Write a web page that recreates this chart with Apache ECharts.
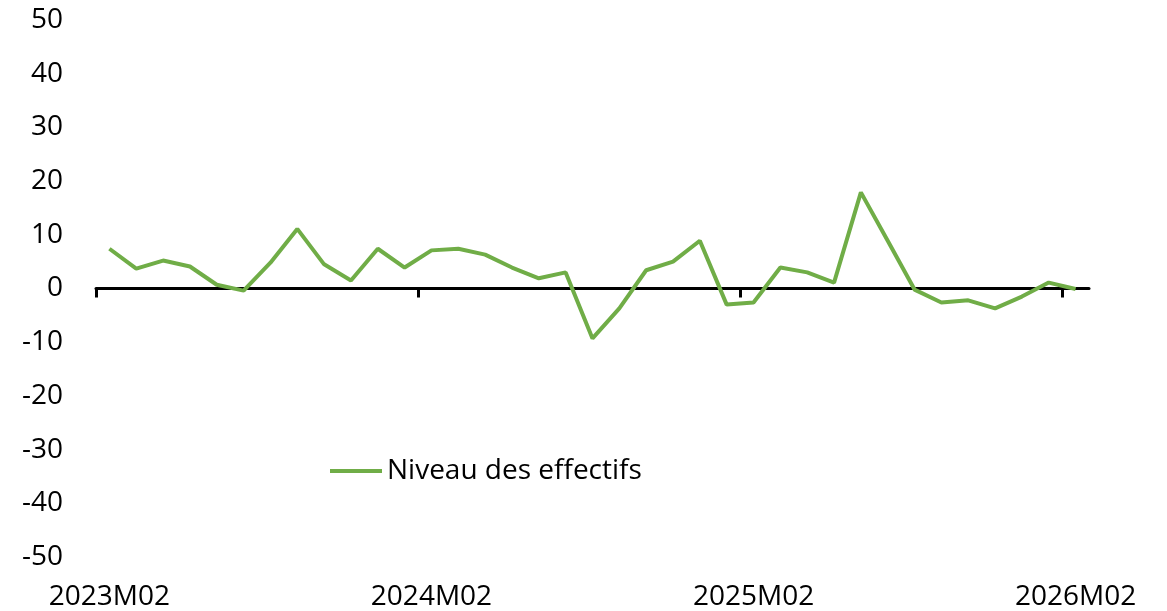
<!DOCTYPE html>
<html>
<head>
<meta charset="utf-8">
<script src="https://cdn.jsdelivr.net/npm/echarts@6/dist/echarts.min.js"></script>
<style>html,body{margin:0;padding:0;background:#fff}#c{width:1167px;height:611px}</style>
</head>
<body>
<div id="c"></div>
<script>
const categories = ["2023M02","2023M03","2023M04","2023M05","2023M06","2023M07","2023M08","2023M09","2023M10","2023M11","2023M12",
"2024M01","2024M02","2024M03","2024M04","2024M05","2024M06","2024M07","2024M08","2024M09","2024M10","2024M11","2024M12",
"2025M01","2025M02","2025M03","2025M04","2025M05","2025M06","2025M07","2025M08","2025M09","2025M10","2025M11","2025M12",
"2026M01","2026M02"];
const values = [7.4,3.7,5.2,4.1,0.7,-0.4,4.8,11.1,4.5,1.5,7.4,
3.9,7.1,7.4,6.3,3.9,1.9,3.0,-9.3,-3.7,3.4,5.0,8.9,
-3.0,-2.6,3.9,3.0,1.1,17.9,8.9,-0.2,-2.6,-2.2,-3.7,-1.5,1.1,-0.1];
const seriesName = "Niveau des effectifs";
const labelIndices = [0,12,24,36];
const tickPositions = [-0.5,11.5,23.5,35.5];
const yTicks = [-50,-40,-30,-20,-10,0,10,20,30,40,50];

const font = "Open Sans";
const chart = echarts.init(document.getElementById('c'));
chart.setOption({
  animation: false,
  grid: {left: 96, right: 78, top: 20, bottom: 54},
  legend: {
    show: true, left: 325, top: 452, icon: 'rect', itemWidth: 52, itemHeight: 4,
    textStyle: {fontFamily: font, fontSize: 28, color: '#000'},
    data: [seriesName]
  },
  xAxis: [
    {
      type: 'value', min: -0.5, max: 36.5,
      axisLine: {show: true, onZero: true, lineStyle: {color: '#000', width: 3}},
      axisTick: {show: true, customValues: tickPositions, length: 9, lineStyle: {color: '#000', width: 3}},
      axisLabel: {show: false},
      splitLine: {show: false}
    },
    {
      type: 'value', min: -0.5, max: 36.5, position: 'bottom',
      axisLine: {show: false, onZero: false},
      axisTick: {show: false},
      splitLine: {show: false},
      axisLabel: {
        show: true, customValues: labelIndices, margin: 26,
        formatter: v => categories[Math.round(v)] || '',
        fontFamily: font, fontSize: 28, color: '#000'
      }
    }
  ],
  yAxis: {
    type: 'value', min: -50, max: 50, interval: 10,
    axisLine: {show: false}, axisTick: {show: false}, splitLine: {show: false},
    axisLabel: {margin: 33, fontFamily: font, fontSize: 28, color: '#000', customValues: yTicks}
  },
  series: [{
    name: seriesName, type: 'line', xAxisIndex: 0,
    data: values.map((v, i) => [i, v]),
    showSymbol: false, symbol: 'none',
    lineStyle: {color: '#70AD47', width: 4},
    itemStyle: {color: '#70AD47'}
  }]
});
</script>
</body>
</html>
